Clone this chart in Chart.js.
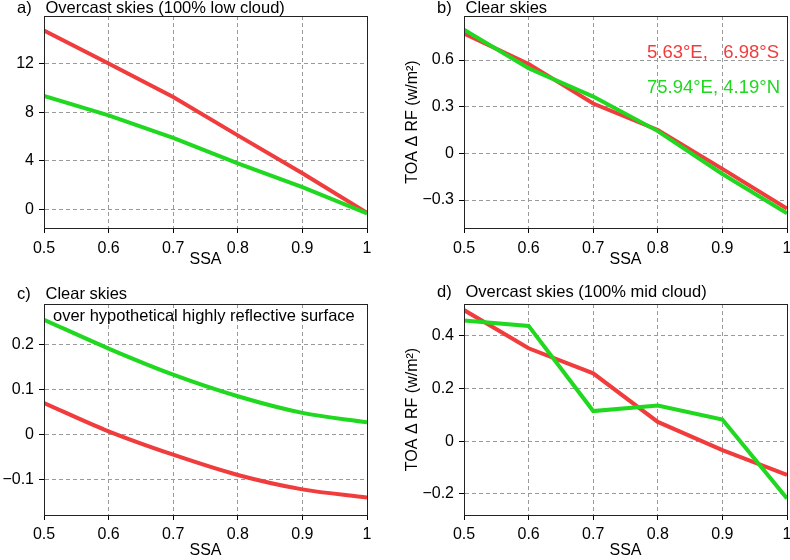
<!DOCTYPE html>
<html>
<head>
<meta charset="utf-8">
<script src="https://cdn.jsdelivr.net/npm/chart.js@4.4.1/dist/chart.umd.min.js"></script>
<style>
    html, body { margin: 0; padding: 0; background: #fff; overflow: hidden; }
    #wrap { position: relative; width: 790px; height: 560px; overflow: hidden; }
    #wrap canvas { position: absolute; }
</style>
</head>
<body>
<div id="wrap">
    <canvas id="panel-a" width="400" height="280" style="left:0;top:0"></canvas>
    <canvas id="panel-b" width="400" height="280" style="left:395px;top:0"></canvas>
    <canvas id="panel-c" width="400" height="280" style="left:0;top:280px"></canvas>
    <canvas id="panel-d" width="400" height="280" style="left:395px;top:280px"></canvas>
</div>
<script>
    "use strict";

    var ssa = [0.5, 0.6, 0.7, 0.8, 0.9, 1.0];
    var xTicks = [0.5, 0.6, 0.7, 0.8, 0.9, 1.0];

    // a) overcast, low cloud
    var lowRed = [14.7, 12.0, 9.25, 6.1, 3.0, -0.25];
    var lowGreen = [9.35, 7.75, 5.9, 3.8, 1.85, -0.3];
    var yTicksA = [0, 4, 8, 12];

    // b) clear skies
    var clearRed = [0.77, 0.575, 0.32, 0.15, -0.10, -0.355];
    var clearGreen = [0.795, 0.547, 0.365, 0.143, -0.133, -0.385];
    var yTicksB = [-0.3, 0, 0.3, 0.6];

    // c) clear skies over reflective surface
    var brightRed = [0.070, 0.007, -0.045, -0.090, -0.122, -0.140];
    var brightGreen = [0.255, 0.191, 0.133, 0.085, 0.048, 0.027];
    var yTicksC = [-0.1, 0, 0.1, 0.2];

    // d) overcast, mid cloud
    var midRed = [0.497, 0.352, 0.257, 0.073, -0.034, -0.128];
    var midGreen = [0.457, 0.437, 0.114, 0.135, 0.082, -0.217];
    var yTicksD = [-0.2, 0, 0.2, 0.4];

    var siteRed = '5.63°E,   6.98°S';
    var siteGreen = '75.94°E, 4.19°N';

    var RED = '#f03c3c';
    var GREEN = '#1fd81f';
    var FONT = "'Liberation Sans', Arial, sans-serif";

    function fmt(v) {
        if (v === 0) return '0';
        return (v < 0 ? '\u2212' : '') + String(Math.abs(v));
    }

    function toPoints(ys) {
        return ssa.map(function (x, i) { return {x: x, y: ys[i]}; });
    }

    var panelText = {
        id: 'panelText',
        afterDraw: function (chart, args, opts) {
            var ctx = chart.ctx;
            var area = chart.chartArea;
            ctx.save();
            // frame round the plot
            ctx.strokeStyle = '#222';
            ctx.lineWidth = 1;
            ctx.strokeRect(area.left + 0.5, area.top + 0.5, area.right - area.left, area.bottom - area.top);
            ctx.textBaseline = 'alphabetic';
            ctx.fillStyle = '#000';
            ctx.font = '16.5px ' + FONT;
            ctx.textAlign = 'left';
            ctx.fillText(opts.tag, area.left - 27, area.top + opts.titleDy);
            ctx.fillText(opts.title, area.left + 1.5, area.top + opts.titleDy);
            if (opts.subtitle) {
                ctx.fillText(opts.subtitle, area.left + 9, area.top + 17);
            }
            if (opts.legend) {
                ctx.font = '18.5px ' + FONT;
                ctx.textAlign = 'right';
                ctx.fillStyle = RED;
                ctx.fillText(siteRed, area.right - 8, area.top + 42);
                ctx.fillStyle = GREEN;
                ctx.fillText(siteGreen, area.right - 7, area.top + 77);
            }
            ctx.restore();
        }
    };

    function makePanel(id, cfg) {
        var ctx = document.getElementById(id).getContext('2d');
        return new Chart(ctx, {
            type: 'line',
            data: {
                datasets: [{
                    data: toPoints(cfg.green),
                    borderColor: GREEN,
                    borderWidth: 4,
                    pointRadius: 0,
                    tension: cfg.smooth ? 0.4 : 0,
                    cubicInterpolationMode: cfg.smooth ? 'monotone' : 'default'
                }, {
                    data: toPoints(cfg.red),
                    borderColor: RED,
                    borderWidth: 4,
                    pointRadius: 0,
                    tension: cfg.smooth ? 0.4 : 0,
                    cubicInterpolationMode: cfg.smooth ? 'monotone' : 'default'
                }]
            },
            options: {
                responsive: false,
                animation: false,
                events: [],
                layout: {padding: {left: 0, top: cfg.top, right: cfg.right, bottom: 0}},
                plugins: {
                    legend: {display: false},
                    tooltip: {enabled: false},
                    panelText: {
                        tag: cfg.tag,
                        title: cfg.title,
                        subtitle: cfg.subtitle,
                        legend: cfg.legend,
                        titleDy: cfg.titleDy
                    }
                },
                scales: {
                    x: {
                        type: 'linear',
                        min: 0.5,
                        max: 1,
                        afterFit: function (s) {
                            s.height = cfg.xHeight;
                            s.paddingLeft = 0;
                            s.paddingRight = 0;
                        },
                        afterBuildTicks: function (s) {
                            s.ticks = xTicks.map(function (v) { return {value: v}; });
                        },
                        ticks: {
                            color: '#000',
                            font: {family: FONT, size: 16},
                            padding: cfg.xTickPad,
                            maxRotation: 0,
                            autoSkip: false,
                            callback: function (v) { return v === 1 ? '1' : v.toFixed(1); }
                        },
                        grid: {color: '#9a9a9a', lineWidth: 1, tickLength: 5, tickColor: '#000', tickWidth: 1},
                        border: {display: true, color: '#222', width: 1, dash: [4, 3]},
                        title: {
                            display: true,
                            text: 'SSA',
                            color: '#000',
                            font: {family: FONT, size: 16},
                            padding: {top: 0, bottom: cfg.xTitlePad}
                        }
                    },
                    y: {
                        min: cfg.yMin,
                        max: cfg.yMax,
                        afterFit: function (s) {
                            s.width = cfg.yWidth;
                            s.paddingTop = 0;
                            s.paddingBottom = 0;
                        },
                        afterBuildTicks: function (s) {
                            s.ticks = cfg.yTicks.map(function (v) { return {value: v}; });
                        },
                        ticks: {
                            color: '#000',
                            font: {family: FONT, size: 16},
                            padding: 5,
                            autoSkip: false,
                            callback: function (v) { return fmt(v); }
                        },
                        grid: {color: '#9a9a9a', lineWidth: 1, tickLength: 5, tickColor: '#000', tickWidth: 1},
                        border: {display: true, color: '#222', width: 1, dash: [4, 3]},
                        title: {
                            display: !!cfg.yTitle,
                            text: 'TOA \u0394 RF (w/m\u00b2)',
                            color: '#000',
                            font: {family: FONT, size: 16},
                            padding: {top: 8, bottom: 0}
                        }
                    }
                }
            },
            plugins: [panelText]
        });
    }

    makePanel('panel-a', {
        red: lowRed, green: lowGreen, yTicks: yTicksA, yMin: -1.5, yMax: 15.9,
        tag: 'a)', title: 'Overcast skies (100% low cloud)', titleDy: -3.5,
        top: 16, right: 33, xHeight: 52, xTickPad: 6, xTitlePad: 11, yWidth: 44
    });

    makePanel('panel-b', {
        red: clearRed, green: clearGreen, yTicks: yTicksB, yMin: -0.48, yMax: 0.883,
        tag: 'b)', title: 'Clear skies', titleDy: -3.5, legend: true, yTitle: true,
        top: 16, right: 8, xHeight: 52, xTickPad: 6, xTitlePad: 11, yWidth: 69
    });

    makePanel('panel-c', {
        red: brightRed, green: brightGreen, yTicks: yTicksC, yMin: -0.179, yMax: 0.29, smooth: true,
        tag: 'c)', title: 'Clear skies', subtitle: 'over hypothetical highly reflective surface',
        titleDy: -5.5, top: 24, right: 33, xHeight: 45, xTickPad: 5, xTitlePad: 0, yWidth: 44
    });

    makePanel('panel-d', {
        red: midRed, green: midGreen, yTicks: yTicksD, yMin: -0.28, yMax: 0.52,
        tag: 'd)', title: 'Overcast skies (100% mid cloud)', titleDy: -7.5, yTitle: true,
        top: 24, right: 8, xHeight: 45, xTickPad: 5, xTitlePad: 0, yWidth: 69
    });
</script>
</body>
</html>
